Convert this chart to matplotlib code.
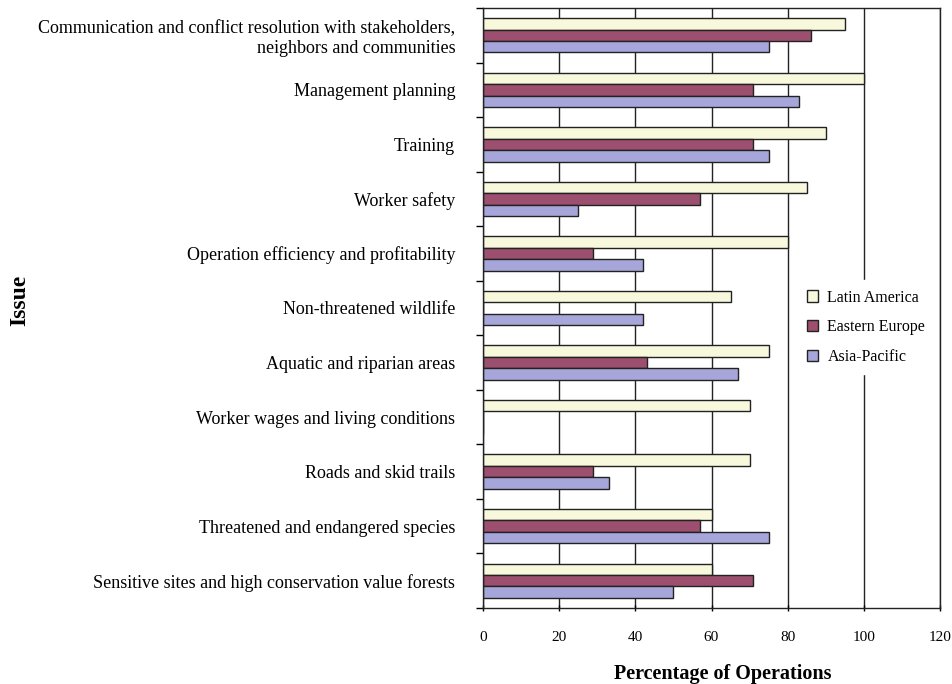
import numpy as np
import matplotlib
matplotlib.use("Agg")
import matplotlib.pyplot as plt

plt.rcParams["font.family"] = ["Liberation Serif", "DejaVu Serif"]

issues = [
    "Communication and conflict resolution with stakeholders,\nneighbors and communities",
    "Management planning",
    "Training",
    "Worker safety",
    "Operation efficiency and profitability",
    "Non-threatened wildlife",
    "Aquatic and riparian areas",
    "Worker wages and living conditions",
    "Roads and skid trails",
    "Threatened and endangered species",
    "Sensitive sites and high conservation value forests",
]
latin_america = [95, 100, 90, 85, 80, 65, 75, 70, 70, 60, 60]
eastern_europe = [86, 71, 71, 57, 29, 0, 43, 0, 29, 57, 71]
asia_pacific = [75, 83, 75, 25, 42, 42, 67, 0, 33, 75, 50]

series = [
    ("Latin America", latin_america, "#f8f8dc"),
    ("Eastern Europe", eastern_europe, "#9d4f6f"),
    ("Asia-Pacific", asia_pacific, "#a6a6da"),
]

fig = plt.figure(figsize=(9.52, 6.84), dpi=100)
ax = fig.add_axes([483 / 952, 1 - 608 / 684, 457 / 952, 600 / 684])

y = np.arange(len(issues))
h = 0.21
for i, (name, vals, color) in enumerate(series):
    ax.barh(y + (i - 1) * h, vals, height=h, color=color,
            edgecolor="#222222", linewidth=1.0, label=name, zorder=3)

ax.set_xlim(0, 120)
ax.set_ylim(len(issues) - 0.5, -0.5)
ax.set_xticks(range(0, 121, 20))
ax.xaxis.grid(True, color="#222222", linewidth=1.0, zorder=0)

# category labels sit between boundary ticks
ax.set_yticks(y)
ax.set_yticklabels(issues, fontsize=13, ha="right", multialignment="right")
ax.tick_params(axis="y", length=0, pad=20)
ax.set_yticks(np.arange(-0.5, len(issues), 1), minor=True)
ax.tick_params(axis="y", which="minor", length=5, width=1.0, direction="out")
ax.tick_params(axis="x", length=5, width=1.0, direction="inout", labelsize=11, pad=14)

for s in ax.spines.values():
    s.set_linewidth(1.0)
    s.set_color("#222222")
    s.set_zorder(6)

ax.set_xlabel("Percentage of Operations", fontsize=14.5, fontweight="bold",
              va="center")
ax.xaxis.set_label_coords(0.525, -0.11)
fig.text(20 / 952, 1 - 300 / 684, "Issue", rotation=90, fontsize=17,
         fontweight="bold", ha="center", va="center")

leg = ax.legend(loc="center", bbox_to_anchor=(0.838, 0.468), frameon=True,
                fontsize=11.5, handlelength=0.7, handleheight=0.7,
                labelspacing=0.85, borderpad=0.6, handletextpad=0.6)
leg.get_frame().set_edgecolor("white")
leg.get_frame().set_facecolor("white")
leg.get_frame().set_alpha(1.0)
leg.get_frame().set_boxstyle("square", pad=0)
leg.set_zorder(5)

fig.savefig("out.png", dpi=100)
